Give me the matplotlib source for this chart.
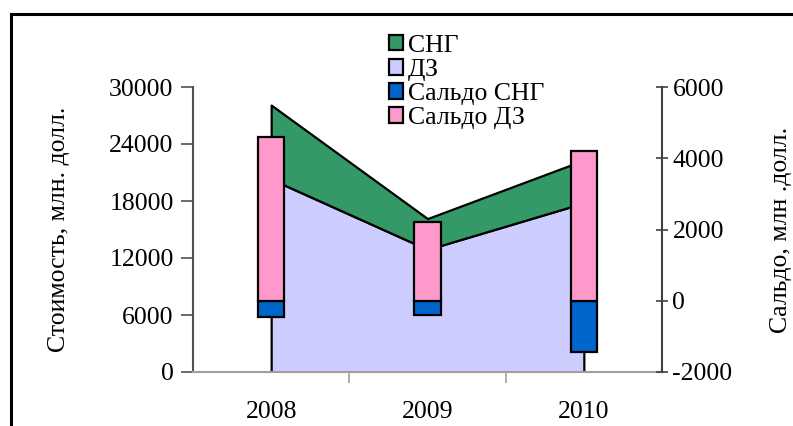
import numpy as np
import matplotlib.pyplot as plt
from matplotlib.patches import Rectangle

plt.rcParams['font.family'] = ['Liberation Serif', 'DejaVu Serif']
plt.rcParams['axes.unicode_minus'] = False

years = ['2008', '2009', '2010']
dz = [20300, 12900, 17800]          # ДЗ
sng = [7800, 3250, 4500]            # СНГ (поверх ДЗ)
saldo_sng = [-450, -400, -1450]     # Сальдо СНГ
saldo_dz = [4600, 2200, 4200]       # Сальдо ДЗ

c_green = '#339966'
c_lav = '#ccccff'
c_blue = '#0066cc'
c_pink = '#ff99cc'
fs = 18.5

fig = plt.figure(figsize=(7.93, 4.26), dpi=100)
fig.patches.append(Rectangle((11 / 793, -0.1), 1.2, (426 - 14) / 426 + 0.1,
                             transform=fig.transFigure, fill=False,
                             edgecolor='black', linewidth=2.2))

ax = fig.add_axes([193 / 793, 54 / 426, 469 / 793, 285 / 426])
x = np.arange(len(years))
top = np.array(dz) + np.array(sng)

ax.fill_between(x, 0, dz, facecolor=c_lav, edgecolor='black', linewidth=1.6,
                label='ДЗ', zorder=2)
ax.fill_between(x, dz, top, facecolor=c_green, edgecolor='black', linewidth=1.6,
                label='СНГ', zorder=2)

ax.set_xlim(-0.5, 2.5)
ax.set_ylim(0, 30000)
ax.set_yticks(np.arange(0, 30001, 6000))
ax.set_xticks([0.5, 1.5])
ax.set_xticklabels([])
ax.set_xticks(x, minor=True)
ax.set_xticklabels(years, minor=True, fontsize=fs)
ax.tick_params(axis='x', which='minor', length=0, pad=21)
ax.tick_params(axis='x', which='major', length=8, direction='out',
               color='#a0a0a0', width=1.2)
ax.tick_params(axis='y', length=9, direction='out', color='#505050',
               width=1.2, labelsize=fs, pad=5)
ax.set_ylabel('Стоимость, млн. долл.', fontsize=fs, labelpad=28)

for s in ['top', 'right']:
    ax.spines[s].set_visible(False)
ax.spines['left'].set_color('#505050')
ax.spines['left'].set_linewidth(1.5)
ax.spines['bottom'].set_color('#a0a0a0')
ax.spines['bottom'].set_linewidth(1.5)

ax2 = ax.twinx()
w = 0.167
ax2.bar(x, saldo_sng, width=w, color=c_blue, edgecolor='black', linewidth=1.6,
        label='Сальдо СНГ')
ax2.bar(x, saldo_dz, width=w, color=c_pink, edgecolor='black', linewidth=1.6,
        label='Сальдо ДЗ')
ax2.set_ylim(-2000, 6000)
ax2.set_yticks(np.arange(-2000, 6001, 2000))
ax2.tick_params(axis='y', length=9, direction='inout', color='#404040',
                width=1.2, labelsize=fs, pad=3)
ax2.set_ylabel('Сальдо, млн .долл.', fontsize=fs, labelpad=27)
for s in ['top', 'left', 'bottom']:
    ax2.spines[s].set_visible(False)
ax2.spines['right'].set_color('#404040')
ax2.spines['right'].set_linewidth(1.5)

h1, l1 = ax.get_legend_handles_labels()
h2, l2 = ax2.get_legend_handles_labels()
handles = [h1[1], h1[0], h2[0], h2[1]]
labels = [l1[1], l1[0], l2[0], l2[1]]
leg = fig.legend(handles, labels, loc='upper left',
                 bbox_to_anchor=(376 / 793, 1 - 22 / 426), frameon=False,
                 fontsize=fs, handlelength=0.55, handleheight=0.55,
                 handletextpad=0.2, labelspacing=0.08, borderpad=0)
for p in leg.get_patches():
    p.set_linewidth(1.6)
    p.set_edgecolor('black')

fig.savefig('out.png', dpi=100)
